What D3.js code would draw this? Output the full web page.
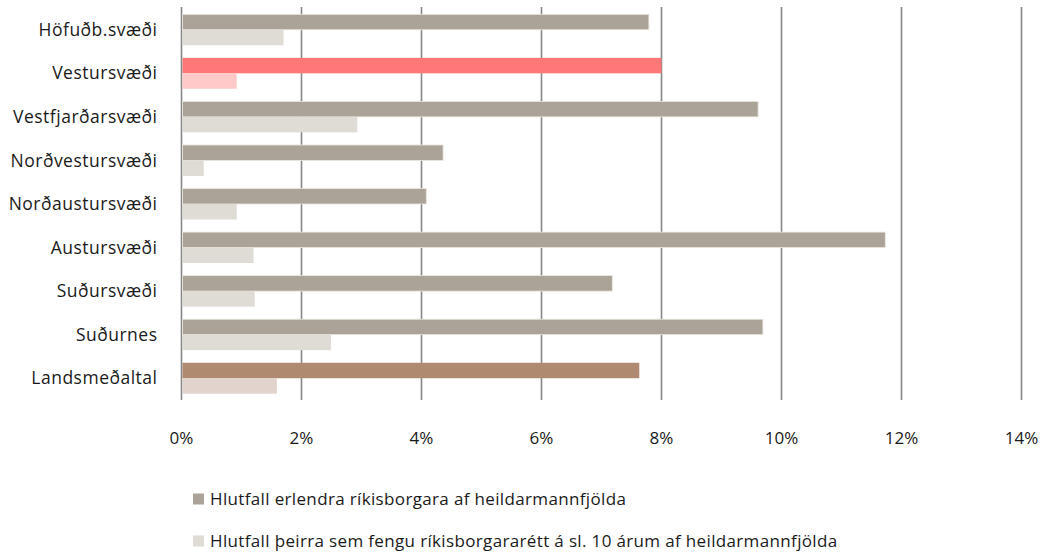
<!DOCTYPE html>
<html>
<head>
<meta charset="utf-8">
<script src="https://cdn.jsdelivr.net/npm/d3@7"></script>
<style>
  body { margin: 0; background: #fff; }
  svg text { font-family: "Open Sans", "Liberation Sans", sans-serif; fill: #1a1a1a; }
</style>
</head>
<body>
<div id="chart"></div>
<script>
var regions = ["Höfuðb.svæði", "Vestursvæði", "Vestfjarðarsvæði", "Norðvestursvæði",
    "Norðaustursvæði", "Austursvæði", "Suðursvæði", "Suðurnes", "Landsmeðaltal"];
var foreignShare = [7.79, 8.0, 9.61, 4.36, 4.08, 11.73, 7.18, 9.69, 7.63];
var citizenshipShare = [1.70, 0.92, 2.93, 0.37, 0.92, 1.20, 1.22, 2.49, 1.59];
var xTicks = [0, 2, 4, 6, 8, 10, 12, 14];
var seriesNames = ["Hlutfall erlendra ríkisborgara af heildarmannfjölda",
    "Hlutfall þeirra sem fengu ríkisborgararétt á sl. 10 árum af heildarmannfjölda"];

var width = 1048, height = 553;
var plotLeft = 181.5, plotRight = 1021.5, plotTop = 8, plotBottom = 400;

// colours per series, with highlighted rows
var darkColor = "#aba397", lightColor = "#dfdbd5";
var special = {
    "Vestursvæði": ["#ff7777", "#ffc9c9"],
    "Landsmeðaltal": ["#af8970", "#e2d4cc"]
};

var svg = d3.select("#chart").append("svg")
    .attr("width", width)
    .attr("height", height);

var x = d3.scaleLinear().domain([0, 14]).range([plotLeft, plotRight]);
var y = d3.scaleBand().domain(regions).range([plotTop, plotBottom])
    .paddingInner(0.29).paddingOuter(0.145);
var sub = d3.scaleBand().domain([0, 1]).range([0, y.bandwidth()]);

// vertical gridlines
svg.append("g").selectAll("line")
    .data(xTicks)
    .enter().append("line")
    .attr("x1", function (d) { return x(d); })
    .attr("x2", function (d) { return x(d); })
    .attr("y1", plotTop - 1)
    .attr("y2", plotBottom)
    .attr("stroke", "#878787")
    .attr("stroke-width", 1.6);

var rows = regions.map(function (r, i) {
    return { region: r, values: [foreignShare[i], citizenshipShare[i]] };
});

var g = svg.append("g").selectAll("g")
    .data(rows)
    .enter().append("g")
    .attr("transform", function (d) { return "translate(0," + y(d.region) + ")"; });

g.selectAll("rect")
    .data(function (d) {
        return d.values.map(function (v, k) { return { region: d.region, k: k, v: v }; });
    })
    .enter().append("rect")
    .attr("x", x(0) + 1)
    .attr("y", function (d) { return sub(d.k); })
    .attr("width", function (d) { return x(d.v) - x(0) - 1; })
    .attr("height", sub.bandwidth())
    .attr("fill", function (d) {
        if (special[d.region]) return special[d.region][d.k];
        return d.k === 0 ? darkColor : lightColor;
    })
    .attr("stroke", function (d) { return d.k === 0 && !special[d.region] ? "#ece8e0" : "none"; })
    .attr("stroke-width", 0.8);

// category labels
svg.append("g").selectAll("text")
    .data(regions)
    .enter().append("text")
    .attr("x", plotLeft - 24)
    .attr("y", function (d) { return y(d) + y.bandwidth() / 2; })
    .attr("dy", "0.35em")
    .attr("text-anchor", "end")
    .style("font-size", "17.5px")
    .style("letter-spacing", "0.5px")
    .text(function (d) { return d; });

// x tick labels
svg.append("g").selectAll("text")
    .data(xTicks)
    .enter().append("text")
    .attr("x", function (d) { return x(d); })
    .attr("y", 438)
    .attr("dy", "0.35em")
    .attr("text-anchor", "middle")
    .style("font-size", "17px")
    .text(function (d) { return d + "%"; });

// legend
var legend = svg.append("g").selectAll("g")
    .data(seriesNames)
    .enter().append("g")
    .attr("transform", function (d, i) { return "translate(193," + (499 + i * 42) + ")"; });

legend.append("rect")
    .attr("x", 0)
    .attr("y", -5.5)
    .attr("width", 11)
    .attr("height", 11)
    .attr("fill", function (d, i) { return i === 0 ? darkColor : lightColor; });

legend.append("text")
    .attr("x", 17)
    .attr("y", 0)
    .attr("dy", "0.35em")
    .style("font-size", "17px")
    .style("letter-spacing", "0.35px")
    .text(function (d) { return d; });
</script>
</body>
</html>
